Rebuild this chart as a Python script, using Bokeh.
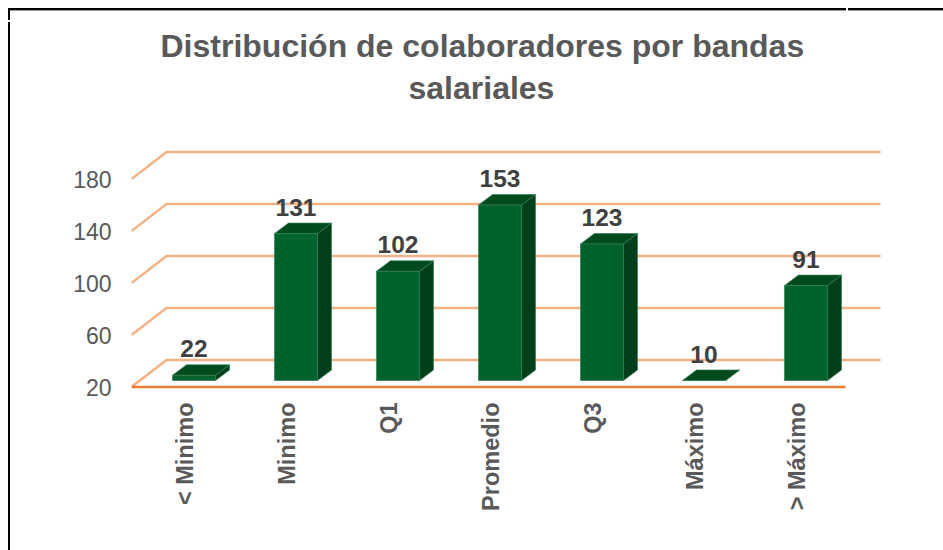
import math
from bokeh.plotting import figure
from bokeh.models import Range1d, FixedTicker, LinearAxis, Title, InlineStyleSheet
from bokeh.embed import file_html
from bokeh.resources import INLINE
from bokeh.core.properties import value

categories = ["< Minimo", "Minimo", "Q1", "Promedio", "Q3", "Máximo", "> Máximo"]
counts = [22, 131, 102, 153, 123, 10, 91]
y_ticks = [20, 60, 100, 140, 180]
title_lines = ["Distribución de colaboradores por bandas", "salariales"]

FRONT, TOP, SIDE, EDGE = "#01622D", "#004A1E", "#003F1A", "#2F8055"
GRID, FLOOR, GREY, DARK = "#F4B183", "#ED7D31", "#595959", "#404040"
FONT = "Liberation Sans"

FRAME_L, FRAME_B = 131, 390
# page frame round the chart: two thin rules with a small gap in each
frame_css = """
:host::before {content:""; position:absolute; z-index:5; left:8px; top:8px; width:935px; height:3px;
  background:
    linear-gradient(to right, transparent 838px, white 838px, white 840px, transparent 840px),
    linear-gradient(to bottom, #000 0, #000 1.6px, #a0a0a0 1.6px, #a0a0a0 2.6px, transparent 2.6px);}
:host::after {content:""; position:absolute; z-index:5; left:8px; top:8px; width:2px; height:542px;
  background: linear-gradient(to bottom, #000 12.5px, white 12.5px, white 14px, #000 14px);}
"""
p = figure(width=943, height=550, output_backend="svg", toolbar_location=None,
           x_range=Range1d(-0.5294, 7.4314), y_range=Range1d(17.31, 232.7),
           x_axis_type=None, y_axis_type=None, stylesheets=[InlineStyleSheet(css=frame_css)],
           min_border_left=FRAME_L, min_border_right=0, min_border_top=110, min_border_bottom=550 - FRAME_B)
p.outline_line_color = None
p.grid.visible = False
p.background_fill_color = "white"

# oblique projection of the 3-D wall, in data units
wall_dx, wall_dy = 35 / 102, 20.8
x0, x1 = -0.5294, 6.4706
for t in y_ticks:
    p.line([x0, x0 + wall_dx, x1 + wall_dx], [t, t + wall_dy, t + wall_dy], line_color=GRID, line_width=2.4)
p.line([x0, x1], [20, 20], line_color=FLOOR, line_width=2.5)

hw = 21.5 / 102
bar_dx, bar_dy = 14 / 102, 10.5 / 1.3
inset_x, inset_y = 8.5 / 102, 5
floor_v = 18
for i, c in enumerate(counts):
    cx = i + inset_x
    l, r = cx - hw, cx + hw
    b = 20 + inset_y
    t = b + max(c - floor_v, 0)
    p.patch([r, r + bar_dx, r + bar_dx, r], [b, b + bar_dy, t + bar_dy, t], fill_color=SIDE, line_color=EDGE, line_width=0.7)
    p.patch([l, l + bar_dx, r + bar_dx, r], [t, t + bar_dy, t + bar_dy, t], fill_color=TOP, line_color=EDGE, line_width=0.7)
    p.patch([l, r, r, l], [b, b, t, t], fill_color=FRONT, line_color=EDGE, line_width=0.7)
    p.text([cx], [t + bar_dy], text=[str(c)], text_align="center", text_baseline="alphabetic", y_offset=-16,
           text_font=value(FONT), text_font_style="bold", text_font_size="24.5px", text_color=DARK)

yax = LinearAxis(ticker=FixedTicker(ticks=y_ticks), axis_line_color=None, major_tick_line_color=None,
                 minor_tick_line_color=None, major_label_standoff=14,
                 major_label_text_font=FONT, major_label_text_font_size="23px", major_label_text_color=GREY)
p.add_layout(yax, "left")
xax = LinearAxis(ticker=FixedTicker(ticks=list(range(len(categories)))),
                 major_label_overrides={i: c for i, c in enumerate(categories)},
                 axis_line_color=None, major_tick_line_color=None, minor_tick_line_color=None,
                 major_label_standoff=6, major_label_orientation=math.pi / 2,
                 major_label_text_font=FONT, major_label_text_font_style="bold",
                 major_label_text_font_size="23.5px", major_label_text_color=GREY)
p.add_layout(xax, "below")

for line, off, bl in [(title_lines[1], 277, 9), (title_lines[0], 29, 0)]:
    p.add_layout(Title(text=line, align="left", offset=off, standoff=bl, text_font=FONT, text_font_style="bold",
                       text_font_size="32px", text_color=GREY), "above")

open("out.html", "w").write(file_html(p, INLINE))
